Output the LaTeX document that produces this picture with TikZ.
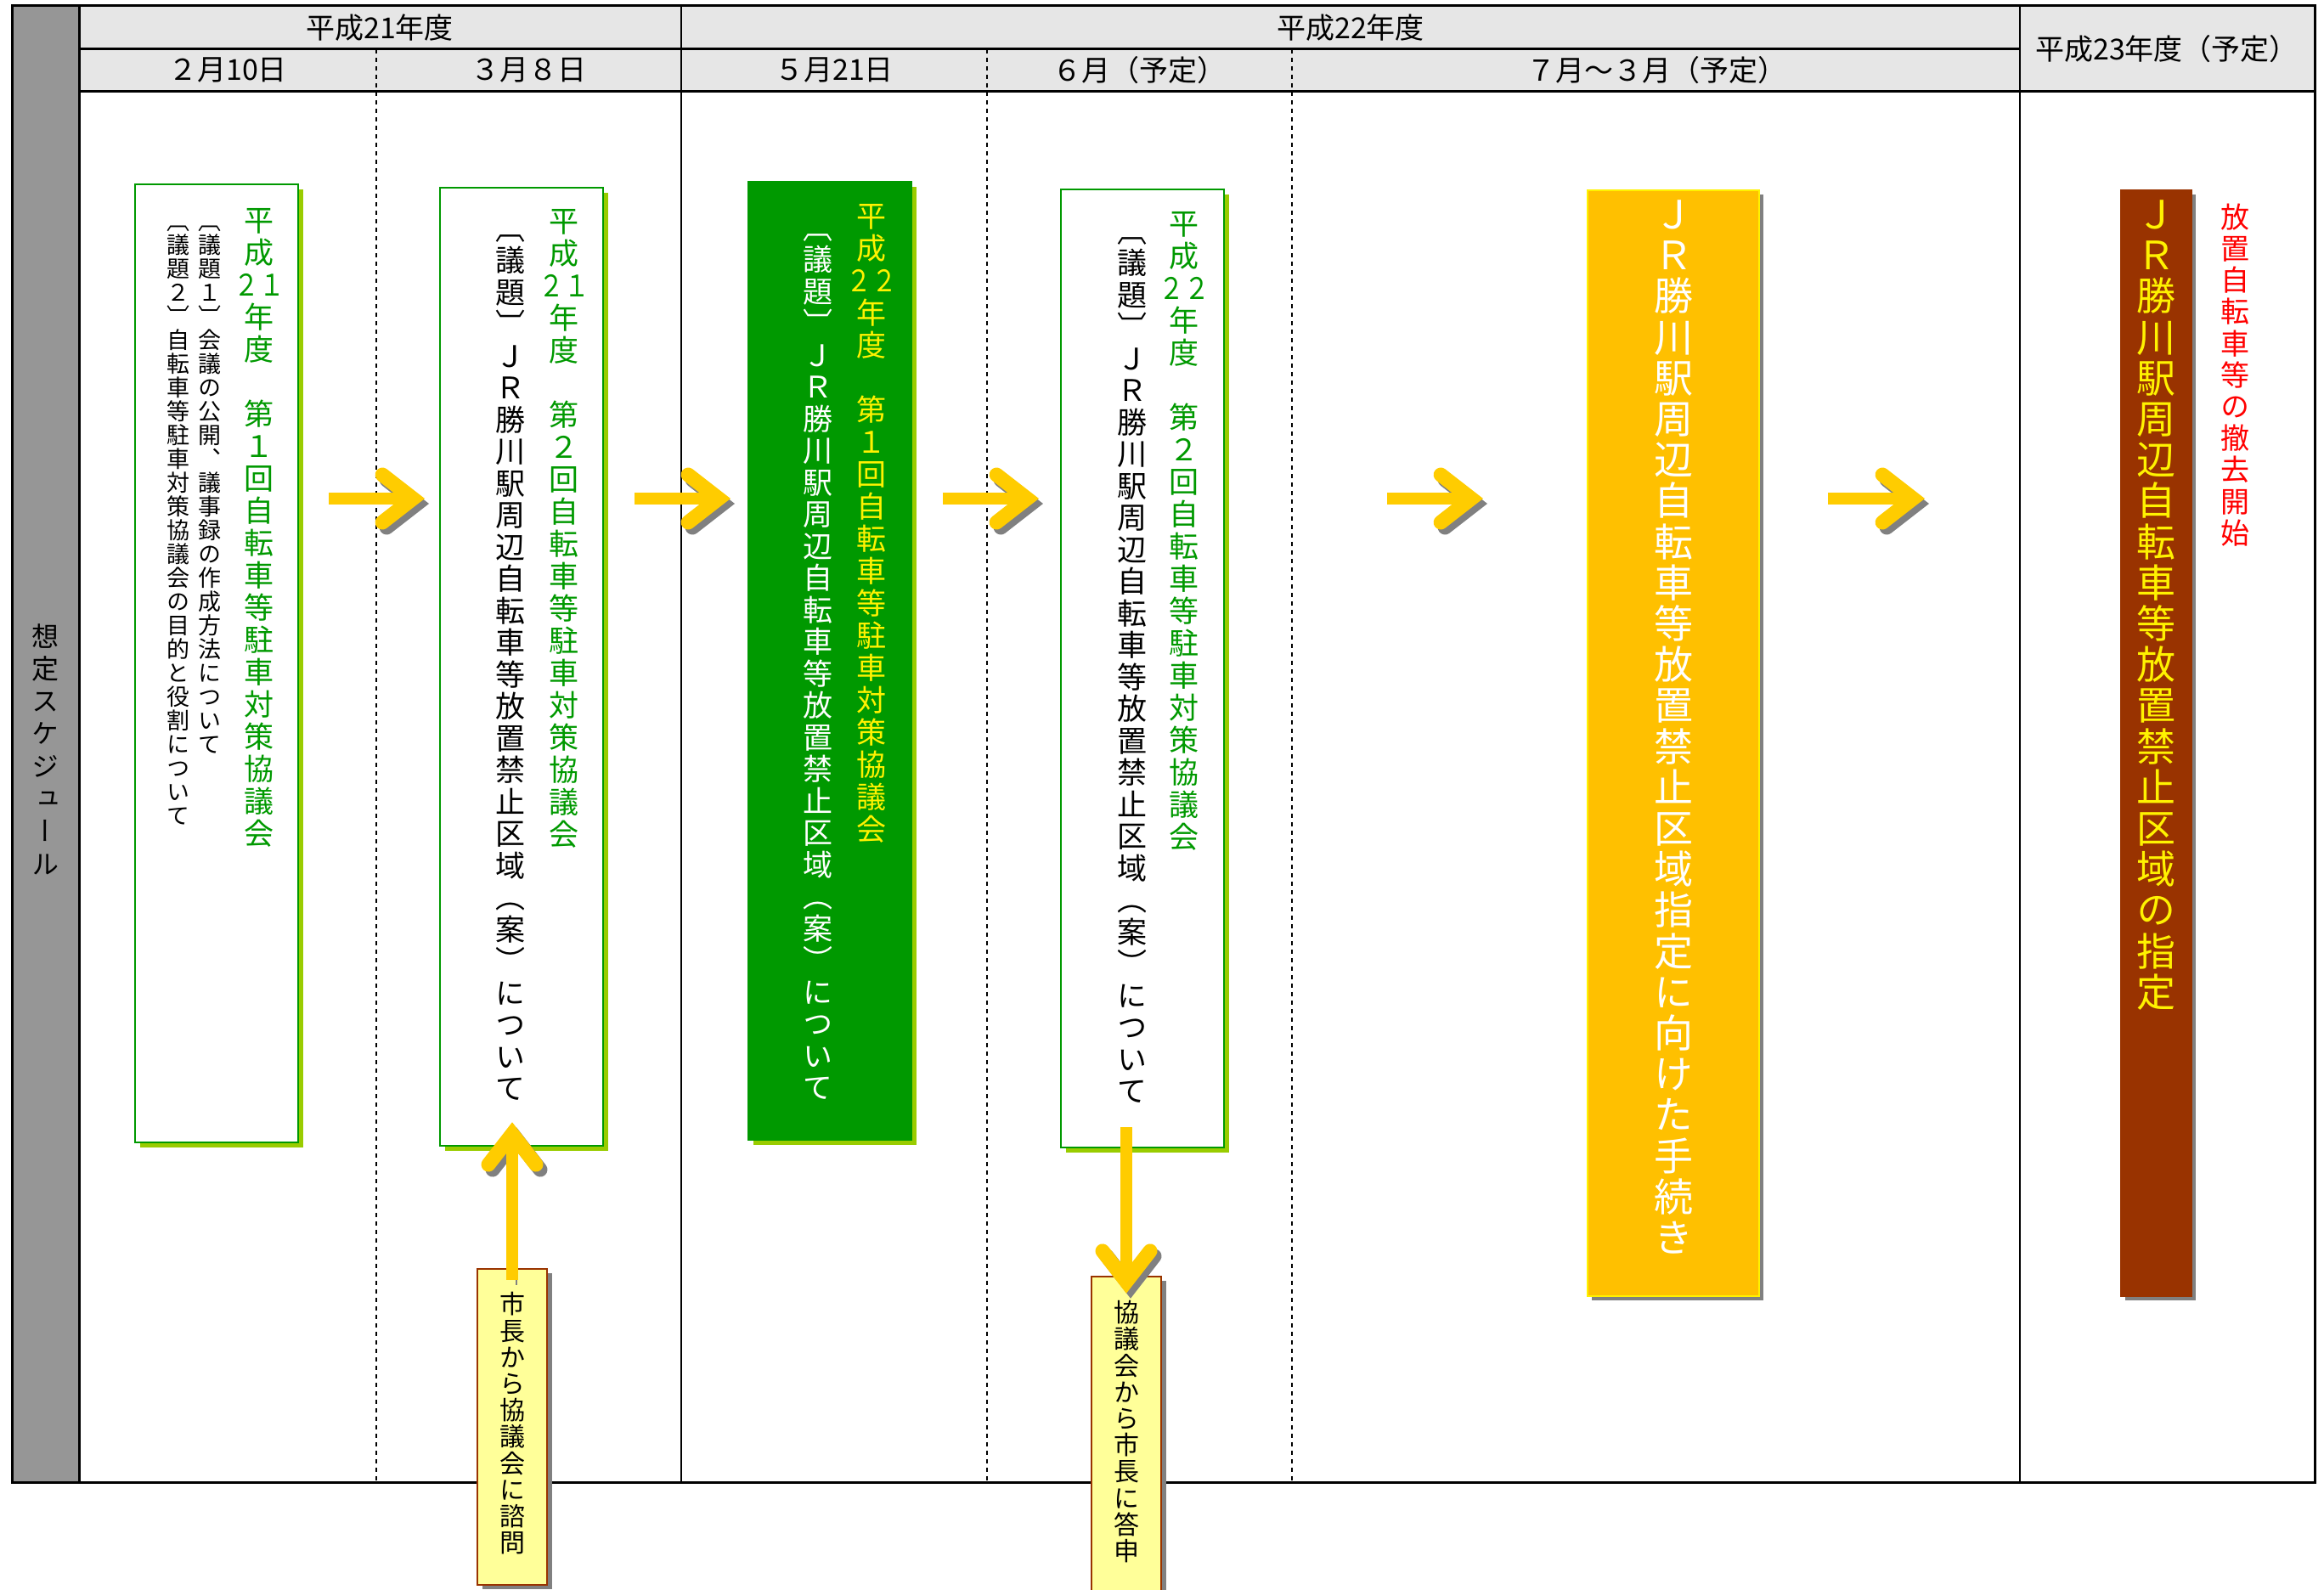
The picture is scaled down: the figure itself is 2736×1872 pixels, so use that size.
\documentclass[tikz,border=0pt]{standalone}
\usepackage{fontspec}
\setmainfont{Noto Sans CJK JP}
\newfontfamily\tate[RawFeature=+vert]{Noto Sans CJK JP}
\usetikzlibrary{positioning, calc, shadows}
\usetikzlibrary{arrows.meta}
\tikzset{>={Straight Barb[length=3.6mm, width=5.6mm, line width=1.7mm, line cap=round, line join=miter]}}

\definecolor{grn}{HTML}{009900}
\definecolor{limeshade}{HTML}{99CC00}
\definecolor{arrowy}{HTML}{FFCC00}
\definecolor{shade}{HTML}{808080}
\definecolor{hdrgray}{HTML}{E6E6E6}
\definecolor{sidegray}{HTML}{969696}
\definecolor{procorange}{HTML}{FFC000}
\definecolor{brick}{HTML}{993300}
\definecolor{paleyellow}{HTML}{FFFF99}

% one character per row, top to bottom
\makeatletter
\newcommand\vcol[1]{\vtop{\tate\lineskiplimit=-\maxdimen\vcol@next#1\vcol@stop}}
\def\vcol@next#1#2\vcol@stop{\hbox to 1em{\hss#1\hss}\ifx\relax#2\relax\else\vcol@next#2\vcol@stop\fi}
\makeatother
\newcommand\yoko[1]{\scalebox{0.85}[1]{#1}}

\begin{document}
\begin{tikzpicture}[x=0.1mm, y=-0.1mm, meeting/.style={rectangle, draw=grn, line width=0.25mm, fill=white, minimum width=19.2mm, minimum height=112.8mm, drop shadow={shadow xshift=0.6mm, shadow yshift=-0.6mm, fill=limeshade, opacity=1}}, bigbox/.style={rectangle, line width=0.2mm, minimum height=130.2mm, drop shadow={shadow xshift=0.5mm, shadow yshift=-0.5mm, fill=shade, opacity=1}}, askbox/.style={rectangle, draw=brick, fill=paleyellow, line width=0.25mm, minimum width=8.2mm, minimum height=37.2mm, drop shadow={shadow xshift=0.6mm, shadow yshift=-0.5mm, fill=shade, opacity=1}}, header/.style={inner sep=0pt, font=\fontsize{3.4mm}{4mm}\selectfont}, titlecol/.style={inner sep=0pt, font=\fontsize{3.5mm}{3.8mm}\selectfont}, bodycol/.style={inner sep=0pt, font=\fontsize{3.5mm}{3.75mm}\selectfont}, notecol/.style={inner sep=0pt, font=\fontsize{2.7mm}{2.8mm}\selectfont}, bigcol/.style={inner sep=0pt, font=\fontsize{4.6mm}{4.82mm}\selectfont}, askcol/.style={inner sep=0pt, font=\fontsize{3.0mm}{3.12mm}\selectfont}, divider/.style={dash pattern=on 0.55mm off 0.45mm, line width=0.2mm}, flow/.style={draw=arrowy, line width=1.4mm, ->, preaction={draw=shade, transform canvas={shift={(5,6)}}}}]

    \useasboundingbox (0,0) rectangle (2736,1872);

    %Table
    \fill[sidegray] (14,7) rectangle (93,1745);
    \fill[hdrgray] (93,7) rectangle (2725,108);
    \draw[divider] (443,58) -- (443,1745);
    \draw[divider] (1162,58) -- (1162,1745);
    \draw[divider] (1521,58) -- (1521,1745);
    \draw[line width=0.25mm] (802,7) -- (802,1745);
    \draw[line width=0.25mm] (2378,7) -- (2378,1745);
    \draw[line width=0.3mm] (93,58) -- (2378,58);
    \draw[line width=0.3mm] (93,108) -- (2725,108);
    \draw[line width=0.3mm] (93,7) -- (93,1745);
    \draw[line width=0.3mm] (14,7) rectangle (2725,1745);

    %Headers
    \node[header](fy21) at (447,33){平成21年度};
    \node[header](fy22) at (1590,33){平成22年度};
    \node[header](fy23) at (2551,58){平成23年度（予定）};
    \node[header](feb10) at (268,83){２月10日};
    \node[header](mar8) at (622,83){３月８日};
    \node[header](may21) at (982,83){５月21日};
    \node[header](june) at (1341,83){６月（予定）};
    \node[header](julmar) at (1950,83){７月～３月（予定）};
    \node[inner sep=0pt, font=\fontsize{3.2mm}{3.83mm}\selectfont](side) at (53,882){\vcol{想定スケジュール}};

    %Boxes
    \node[meeting](mtg1) at (255,781){};
    \node[meeting](mtg2) at (614,785){};
    \node[meeting, fill=grn](mtg3) at (977,778){};
    \node[meeting](mtg4) at (1345,787){};
    \node[bigbox, fill=procorange, draw=yellow, minimum width=20.2mm](proc) at (1970,875){};
    \node[bigbox, fill=brick, draw=brick, minimum width=8.3mm](desig) at (2538,875){};
    \node[askbox](ask) at (603,1680){};
    \node[askbox](reply) at (1326,1689){};

    %Texts
    \node[titlecol, text=grn](mtg1t)[below=2.9mm of mtg1.north, xshift=5mm]{\vcol{平成{\yoko{２１}}年度　第１回自転車等駐車対策協議会}};
    \node[notecol](mtg1a)[below=5mm of mtg1.north, xshift=-0.8mm]{\vcol{〔議題１〕会議の公開、議事録の作成方法について}};
    \node[notecol](mtg1b)[below=5mm of mtg1.north, xshift=-4.5mm]{\vcol{〔議題２〕自転車等駐車対策協議会の目的と役割について}};
    \node[titlecol, text=grn](mtg2t)[below=2.6mm of mtg2.north, xshift=5mm]{\vcol{平成{\yoko{２１}}年度　第２回自転車等駐車対策協議会}};
    \node[bodycol](mtg2b)[below=5.6mm of mtg2.north, xshift=-1.3mm]{\vcol{〔議題〕ＪＲ勝川駅周辺自転車等放置禁止区域（案）について}};
    \node[titlecol, text=yellow](mtg3t)[below=2.7mm of mtg3.north, xshift=4.9mm]{\vcol{平成{\yoko{２２}}年度　第１回自転車等駐車対策協議会}};
    \node[bodycol, text=white](mtg3b)[below=6.2mm of mtg3.north, xshift=-1.4mm]{\vcol{〔議題〕ＪＲ勝川駅周辺自転車等放置禁止区域（案）について}};
    \node[titlecol, text=grn](mtg4t)[below=2.7mm of mtg4.north, xshift=4.9mm]{\vcol{平成{\yoko{２２}}年度　第２回自転車等駐車対策協議会}};
    \node[bodycol](mtg4b)[below=5.7mm of mtg4.north, xshift=-1.2mm]{\vcol{〔議題〕ＪＲ勝川駅周辺自転車等放置禁止区域（案）について}};
    \node[bigcol, text=white](proct)[below=1.2mm of proc.north]{\vcol{ＪＲ勝川駅周辺自転車等放置禁止区域指定に向けた手続き}};
    \node[bigcol, text=yellow](desigt)[below=1.2mm of desig.north]{\vcol{ＪＲ勝川駅周辺自転車等放置禁止区域の指定}};
    \node[inner sep=0pt, font=\fontsize{3.4mm}{3.72mm}\selectfont, text=red](removal)[below right=1.6mm and 3.3mm of desig.north east]{\vcol{放置自転車等の撤去開始}};
    \node[askcol](askt)[below=2.8mm of ask.north]{\vcol{市長から協議会に諮問}};
    \node[askcol](replyt)[below=2.9mm of reply.north]{\vcol{協議会から市長に答申}};

    %Arrows
    \coordinate (g1s) at (387,587); \coordinate (g1e) at (500,587);
    \coordinate (g2s) at (747,587); \coordinate (g2e) at (860,587);
    \coordinate (g3s) at (1110,587); \coordinate (g3e) at (1223,587);
    \coordinate (g4s) at (1633,587); \coordinate (g4e) at (1746,587);
    \coordinate (g5s) at (2152,587); \coordinate (g5e) at (2266,587);
    \draw[flow] (g1s) -- (g1e);
    \draw[flow] (g2s) -- (g2e);
    \draw[flow] (g3s) -- (g3e);
    \draw[flow] (g4s) -- (g4e);
    \draw[flow] (g5s) -- (g5e);
    \draw[flow] ($(ask.north)+(0,14)$) -- ($(ask.north |- mtg2.south)+(0,-29)$);
    \draw[flow] ($(reply.north |- mtg4.south)+(0,-25)$) -- ($(reply.north)+(0,21)$);

\end{tikzpicture}
\end{document}
